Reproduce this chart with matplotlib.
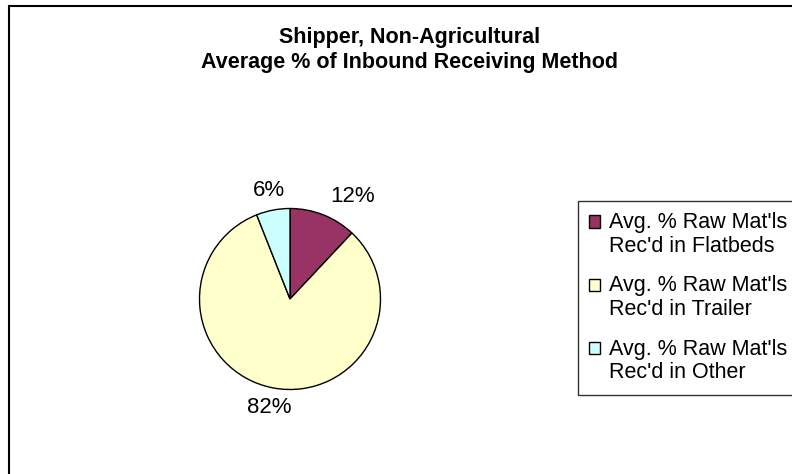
import matplotlib.pyplot as plt
from matplotlib.patches import Rectangle
from matplotlib.legend_handler import HandlerPatch

plt.rcParams['font.family'] = ['Liberation Sans', 'DejaVu Sans']

# inbound receiving method shares (%)
methods = ["Avg. % Raw Mat'ls\nRec'd in Flatbeds",
           "Avg. % Raw Mat'ls\nRec'd in Trailer",
           "Avg. % Raw Mat'ls\nRec'd in Other"]
shares = [12, 82, 6]
colors = ['#993366', '#FFFFCC', '#CCFFFF']

W, H = 792, 474
fig = plt.figure(figsize=(W / 100, H / 100), dpi=100)

# chart area border
fig.patches.append(Rectangle((8.5 / W, -0.1), 1.2, 1 - 5.5 / H + 0.1,
                             transform=fig.transFigure, fill=False,
                             edgecolor='black', linewidth=1.5))

fig.text(410 / W, 1 - 50 / H,
         'Shipper, Non-Agricultural\nAverage % of Inbound Receiving Method',
         ha='center', va='center', fontsize=15.5, fontweight='bold',
         linespacing=1.3)

r = 90.5
cx, cy = 290, H - 299
ax = fig.add_axes([(cx - r) / W, (cy - r) / H, 2 * r / W, 2 * r / H])
wedges, texts = ax.pie(shares, labels=[f'{v}%' for v in shares],
                       colors=colors, startangle=90, counterclock=False,
                       labeldistance=1.22,
                       wedgeprops=dict(edgecolor='black', linewidth=1),
                       textprops=dict(fontsize=16))
for t in texts:
    if t.get_position()[0] < 0:
        t.set_ha('center')
ax.set_xlim(-1, 1)
ax.set_ylim(-1, 1)
ax.axis('off')


def top_line_box(legend, orig_handle, xdescent, ydescent, width, height, fontsize):
    # square sits beside the first line of a two-line label
    shift = 0.62 * fontsize
    return Rectangle((-xdescent, -ydescent + shift), width, height)


leg = fig.legend(wedges, methods, loc='upper left',
                 bbox_to_anchor=(578 / W, 1 - 201 / H), borderaxespad=0,
                 fontsize=15.5, frameon=True, fancybox=False, shadow=False,
                 handlelength=0.52, handleheight=0.52, handletextpad=0.4,
                 labelspacing=0.85, borderpad=0.52,
                 handler_map={w: HandlerPatch(patch_func=top_line_box) for w in wedges})
for t in leg.get_texts():
    t.set_linespacing(1.18)
leg.get_frame().set_edgecolor('black')
leg.get_frame().set_linewidth(1)

fig.savefig('out.png', dpi=100)
